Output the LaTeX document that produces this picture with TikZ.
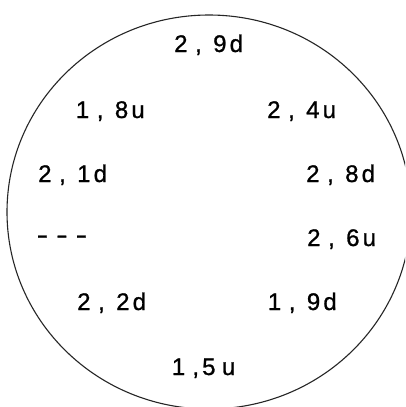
\documentclass[tikz,border=0pt]{standalone}
\usepackage{fontspec}
\setmainfont{Liberation Sans}[FakeBold=1]
\usepackage{graphicx}
\newcommand{\lbl}[3]{\makebox[21pt][l]{#1}\makebox[18pt][l]{,}\makebox[16.5pt][l]{#2}#3}
\newcommand{\dsh}{\makebox[19.5pt][l]{\scalebox{1.45}[1]{-}}}
\begin{document}
\begin{tikzpicture}[x=1pt,y=-1pt,
  lab/.style={anchor=base west, inner sep=0pt, font=\fontsize{24}{27}\selectfont},
  rim/.style={line width=1.1pt, black!85}]
\useasboundingbox (0,0) rectangle (405,407);
\clip (0,0) rectangle (405,407);
\fill[white] (0,0) rectangle (405,407);
\coordinate (o) at (209,212);
\draw[rim] (o) ellipse [x radius=202, y radius=197];
\node[lab] (a) at (174,52) {\lbl{2}{9}{d}};
\node[lab] (b) at (75.7,118) {\lbl{1}{8}{u}};
\node[lab] (c) at (267,118) {\lbl{2}{4}{u}};
\node[lab] (d) at (38,182) {\lbl{2}{1}{d}};
\node[lab] (e) at (306,182) {\lbl{2}{8}{d}};
\node[lab] (f) at (36.5,243) {\dsh\dsh\dsh};
\node[lab] (g) at (307,246) {\lbl{2}{6}{u}};
\node[lab] (h) at (77,310) {\lbl{2}{2}{d}};
\node[lab] (i) at (267.7,310) {\lbl{1}{9}{d}};
\node[lab] (j) at (171.7,375) {\makebox[20.5pt][l]{1}\makebox[9.8pt][l]{,}\makebox[19.8pt][l]{5}u};
\end{tikzpicture}
\end{document}
